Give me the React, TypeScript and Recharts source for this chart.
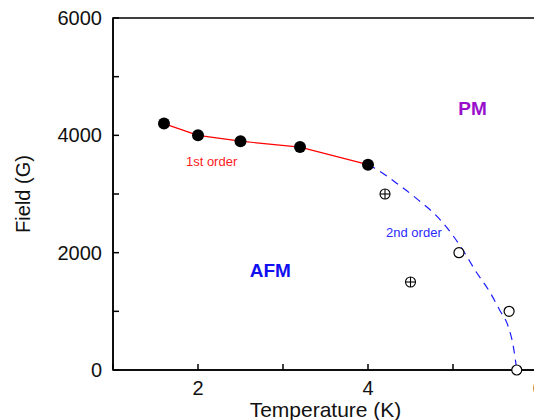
import { ComposedChart, Line, Scatter, XAxis, YAxis, ReferenceArea, ReferenceDot, Label } from 'recharts';

// first-order transition points (filled circles) and connecting line
const firstOrder = [
  { x: 1.6, y: 4200 },
  { x: 2.0, y: 4000 },
  { x: 2.5, y: 3900 },
  { x: 3.2, y: 3800 },
  { x: 4.0, y: 3500 },
];

// second-order boundary (dashed guide)
const secondOrderLine = [
  { x: 4.0, y: 3500 },
  { x: 4.08, y: 3440 },
  { x: 4.34, y: 3180 },
  { x: 4.59, y: 2900 },
  { x: 4.85, y: 2560 },
  { x: 5.02, y: 2250 },
  { x: 5.14, y: 1990 },
  { x: 5.26, y: 1700 },
  { x: 5.42, y: 1360 },
  { x: 5.55, y: 1020 },
  { x: 5.65, y: 740 },
  { x: 5.71, y: 400 },
  { x: 5.75, y: 0 },
];

const openPoints = [
  { x: 5.07, y: 2000 },
  { x: 5.66, y: 1000 },
  { x: 5.75, y: 0 },
];

const crossedPoints = [
  { x: 4.2, y: 3000 },
  { x: 4.5, y: 1500 },
];

const annotations = [
  { x: 2.16, y: 3480, text: '1st order', color: '#ff1a1a', size: 13, bold: false },
  { x: 4.54, y: 2270, text: '2nd order', color: '#2b2bff', size: 13, bold: false },
  { x: 2.85, y: 1590, text: 'AFM', color: '#1010f0', size: 19, bold: true },
  { x: 5.23, y: 4345, text: 'PM', color: '#9a0fcc', size: 19, bold: true },
];

const xTicks = [1, 2, 3, 4, 5, 6];
const yTicks = [0, 1000, 2000, 3000, 4000, 5000, 6000];

const FONT = '"Liberation Sans", Arial, Helvetica, sans-serif';
const TS = 8;
const TM = 3;

const XTick = (props: any) => {
  const { x, y, payload } = props;
  const axisY = y - TS - TM;
  return (
    <g>
      <line x1={x} x2={x} y1={axisY} y2={axisY - 6} stroke="#000" strokeWidth={1.5} />
      {payload.value % 2 === 0 && (
        <text x={x} y={y} dy="0.71em" textAnchor="middle" fontSize={20} fontFamily={FONT} fill="#111">
          {payload.value}
        </text>
      )}
    </g>
  );
};

const YTick = (props: any) => {
  const { x, y, payload } = props;
  const axisX = x + TS + TM;
  return (
    <g>
      <line x1={axisX} x2={axisX + 6} y1={y} y2={y} stroke="#000" strokeWidth={1.5} />
      {payload.value % 2000 === 0 && (
        <text x={x} y={y} dy="0.355em" textAnchor="end" fontSize={20} fontFamily={FONT} fill="#111">
          {payload.value}
        </text>
      )}
    </g>
  );
};

const FilledDot = (p: any) => <circle cx={p.cx} cy={p.cy} r={6} fill="#000" />;
const OpenDot = (p: any) => <circle cx={p.cx} cy={p.cy} r={5} fill="#fff" stroke="#000" strokeWidth={1.2} />;
const CrossDot = (p: any) => (
  <g stroke="#000" strokeWidth={1.1} fill="none">
    <circle cx={p.cx} cy={p.cy} r={5} />
    <line x1={p.cx - 5} x2={p.cx + 5} y1={p.cy} y2={p.cy} />
    <line x1={p.cx} x2={p.cx} y1={p.cy - 5} y2={p.cy + 5} />
  </g>
);

export default function App() {
  return (
    <ComposedChart width={534} height={412} margin={{ top: 10, right: 4, bottom: 0, left: 0 }}>
      <XAxis
        type="number"
        dataKey="x"
        domain={[1, 6]}
        ticks={xTicks}
        allowDataOverflow
        height={50}
        tickSize={TS}
        tickMargin={TM}
        tickLine={false}
        axisLine={{ stroke: '#000', strokeWidth: 1.5 }}
        tick={XTick}
      >
        <Label
          value="Temperature (K)"
          position="insideBottom"
          offset={3}
          style={{ fontSize: 21, fontFamily: FONT, fill: '#111' }}
        />
      </XAxis>
      <YAxis
        type="number"
        dataKey="y"
        domain={[0, 6000]}
        ticks={yTicks}
        width={105}
        tickSize={TS}
        tickMargin={TM}
        tickLine={false}
        axisLine={{ stroke: '#000', strokeWidth: 1.5 }}
        tick={YTick}
      >
        <Label
          content={(p: any) => {
            const vb = p.viewBox;
            const cx = vb.x + 15;
            const cy = vb.y + vb.height / 2;
            return (
              <text
                x={cx}
                y={cy}
                transform={`rotate(-90 ${cx} ${cy})`}
                textAnchor="middle"
                dominantBaseline="central"
                fontSize={20}
                fontFamily={FONT}
                fill="#111"
              >
                Field (G)
              </text>
            );
          }}
        />
      </YAxis>
      <ReferenceArea x1={1} x2={6} y1={0} y2={6000} fill="none" stroke="#000" strokeWidth={1.5} />
      <Line
        data={firstOrder}
        dataKey="y"
        type="linear"
        stroke="#ff0000"
        strokeWidth={1.2}
        dot={false}
        isAnimationActive={false}
      />
      <Line
        data={secondOrderLine}
        dataKey="y"
        type="monotone"
        stroke="#1a1aff"
        strokeWidth={1.2}
        strokeDasharray="8 6"
        dot={false}
        isAnimationActive={false}
      />
      <Scatter data={firstOrder} dataKey="y" shape={FilledDot} isAnimationActive={false} />
      <Scatter data={openPoints} dataKey="y" shape={OpenDot} isAnimationActive={false} />
      <Scatter data={crossedPoints} dataKey="y" shape={CrossDot} isAnimationActive={false} />
      {annotations.map((a) => (
        <ReferenceDot
          key={a.text}
          x={a.x}
          y={a.y}
          r={0}
          shape={(p: any) => (
            <text
              x={p.cx}
              y={p.cy}
              textAnchor="middle"
              fontSize={a.size}
              fontWeight={a.bold ? 'bold' : 'normal'}
              fontFamily={FONT}
              fill={a.color}
            >
              {a.text}
            </text>
          )}
        />
      ))}
    </ComposedChart>
  );
}
